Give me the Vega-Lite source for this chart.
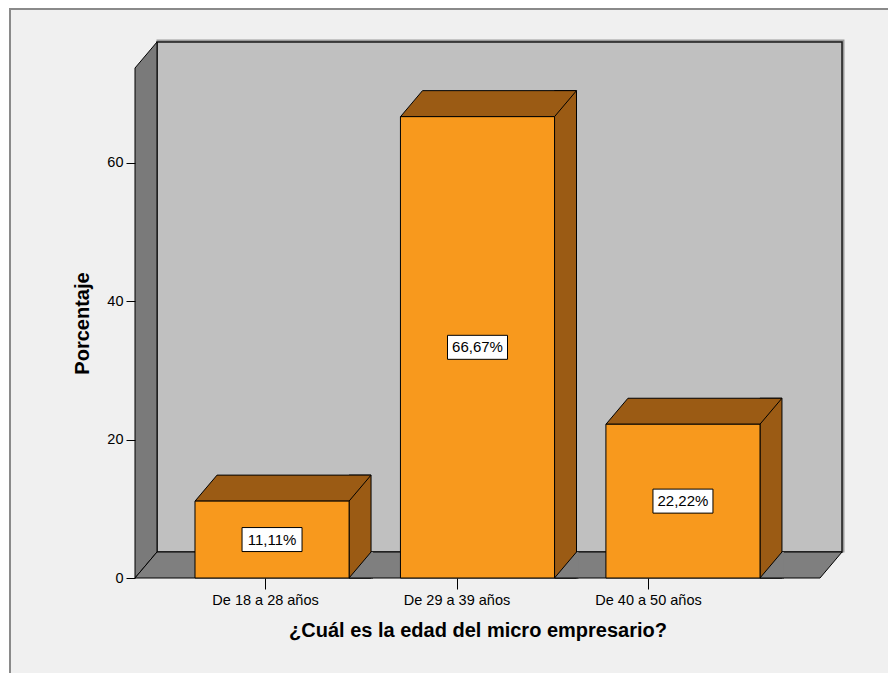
{
  "$schema": "https://vega.github.io/schema/vega-lite/v6.json",
  "width": 685,
  "height": 510,
  "autosize": "none",
  "padding": {"left": 135, "top": 68, "right": 68, "bottom": 95},
  "background": "#ffffff",
  "config": {
    "font": "Liberation Sans",
    "view": {"stroke": null},
    "axis": {"grid": false, "domain": false, "tickColor": "#000000", "labelColor": "#000000", "titleColor": "#000000", "labelFont": "Liberation Sans", "titleFont": "Liberation Sans"}
  },
  "data": {
    "values": [
      {"edad": "De 18 a 28 años", "pct": 11.11},
      {"edad": "De 29 a 39 años", "pct": 66.67},
      {"edad": "De 40 a 50 años", "pct": 22.22}
    ]
  },
  "resolve": {"scale": {"x": "independent"}, "axis": {"x": "independent"}},
  "layer": [
    {
      "data": {"values": [{}]},
      "layer": [
        {
          "mark": {"type": "rect", "fill": "#f0f0f0", "stroke": "#8a8a8a", "strokeWidth": 2, "xOffset": -125, "x2Offset": 80, "yOffset": -59, "y2Offset": 110},
          "encoding": {
            "x": {"datum": 0, "type": "quantitative", "scale": {"domain": [0, 1], "nice": false, "zero": false}, "axis": null},
            "x2": {"datum": 1},
            "y": {"datum": 73.7, "type": "quantitative", "scale": {"domain": [0, 73.7], "nice": false}},
            "y2": {"datum": 0}
          }
        },
        {
          "mark": {"type": "rect", "fill": "#c0c0c0", "stroke": "#9a9a9a", "strokeWidth": 3, "xOffset": 23, "x2Offset": 23, "yOffset": -27, "y2Offset": -27},
          "encoding": {
            "x": {"datum": 0, "type": "quantitative", "scale": {"domain": [0, 1], "nice": false, "zero": false}, "axis": null},
            "x2": {"datum": 1},
            "y": {"datum": 73.7, "type": "quantitative", "scale": {"domain": [0, 73.7], "nice": false}},
            "y2": {"datum": 0}
          }
        },
        {
          "mark": {"type": "rect", "fill": "#c0c0c0", "stroke": "#1a1a1a", "strokeWidth": 1.5, "xOffset": 22, "x2Offset": 22, "yOffset": -26, "y2Offset": -26},
          "encoding": {
            "x": {"datum": 0, "type": "quantitative", "scale": {"domain": [0, 1], "nice": false, "zero": false}, "axis": null},
            "x2": {"datum": 1},
            "y": {"datum": 73.7, "type": "quantitative", "scale": {"domain": [0, 73.7], "nice": false}},
            "y2": {"datum": 0}
          }
        },
        {
          "mark": {"type": "point", "shape": "M0,0 L0,-510 L22,-536 L22,-26 Z", "size": 4, "filled": true, "opacity": 1, "fill": "#7a7a7a", "stroke": "#000000", "strokeWidth": 1},
          "encoding": {
            "x": {"datum": 0, "type": "quantitative", "scale": {"domain": [0, 1], "nice": false, "zero": false}, "axis": null},
            "y": {"datum": 0, "type": "quantitative", "scale": {"domain": [0, 73.7], "nice": false}}
          }
        },
        {
          "mark": {"type": "point", "shape": "M0,0 L685,0 L707,-26 L22,-26 Z", "size": 4, "filled": true, "opacity": 1, "fill": "#7f7f7f", "stroke": "#000000", "strokeWidth": 1},
          "encoding": {
            "x": {"datum": 0, "type": "quantitative", "scale": {"domain": [0, 1], "nice": false, "zero": false}, "axis": null},
            "y": {"datum": 0, "type": "quantitative", "scale": {"domain": [0, 73.7], "nice": false}}
          }
        }
      ]
    },
    {
      "encoding": {
        "x": {"field": "edad", "type": "nominal", "sort": null, "scale": {"type": "band", "paddingInner": 0.25, "paddingOuter": 0.292}, "axis": null}
      },
      "layer": [
        {
          "mark": {"type": "bar", "width": 22, "xOffset": 88, "yOffset": -26, "fill": "#9b5b14", "stroke": "#000000", "strokeWidth": 1},
          "encoding": {
            "y": {"field": "pct", "type": "quantitative", "stack": null, "scale": {"domain": [0, 73.7], "nice": false}}
          }
        },
        {
          "mark": {"type": "point", "shape": "M77,0 L99,-26 L101,-26 L101,0 Z", "size": 4, "filled": true, "opacity": 1, "fill": "#7f7f7f", "strokeWidth": 0},
          "encoding": {
            "y": {"datum": 0, "type": "quantitative", "scale": {"domain": [0, 73.7], "nice": false}}
          }
        },
        {
          "mark": {"type": "point", "shape": "M101,0 L77,0 L99,-26", "size": 4, "filled": false, "opacity": 1, "stroke": "#000000", "strokeWidth": 1},
          "encoding": {
            "y": {"datum": 0, "type": "quantitative", "scale": {"domain": [0, 73.7], "nice": false}}
          }
        },
        {
          "mark": {"type": "point", "shape": "M-77,0 L77,0 L99,-26 L-55,-26 Z", "size": 4, "filled": true, "opacity": 1, "fill": "#9b5b14", "stroke": "#000000", "strokeWidth": 1},
          "encoding": {
            "y": {"field": "pct", "type": "quantitative", "stack": null, "scale": {"domain": [0, 73.7], "nice": false}}
          }
        },
        {
          "mark": {"type": "bar", "fill": "#f8991d", "stroke": "#000000", "strokeWidth": 1},
          "encoding": {
            "y": {"field": "pct", "type": "quantitative", "stack": null, "scale": {"domain": [0, 73.7], "nice": false}}
          }
        },
        {
          "mark": {"type": "point", "shape": "M-30,-12 L30,-12 L30,12 L-30,12 Z", "size": 4, "filled": true, "opacity": 1, "fill": "#ffffff", "stroke": "#000000", "strokeWidth": 1},
          "encoding": {
            "y": {"field": "pct", "type": "quantitative", "stack": "zero", "bandPosition": 0.5, "scale": {"domain": [0, 73.7], "nice": false}}
          }
        },
        {
          "transform": [{"calculate": "replace(format(datum.pct, '.2f'), '.', ',') + '%'", "as": "etiqueta"}],
          "mark": {"type": "text", "fontSize": 15, "color": "#000000", "baseline": "middle", "align": "center"},
          "encoding": {
            "y": {"field": "pct", "type": "quantitative", "stack": "zero", "bandPosition": 0.5, "scale": {"domain": [0, 73.7], "nice": false}},
            "text": {"field": "etiqueta"}
          }
        }
      ]
    },
    {
      "mark": {"type": "point", "opacity": 0},
      "encoding": {
        "x": {
          "field": "edad", "type": "nominal", "sort": null,
          "scale": {"type": "point", "padding": 0.7886, "align": 0.4305},
          "axis": {"zindex": 1, "title": "¿Cuál es la edad del micro empresario?", "labelAngle": 0, "labelFontSize": 14.5, "labelPadding": 4, "tickSize": 11, "titleFontSize": 20, "titleFontWeight": "bold", "titlePadding": 14}
        },
        "y": {
          "field": "pct", "type": "quantitative", "stack": null,
          "scale": {"domain": [0, 73.7], "nice": false},
          "axis": {"zindex": 1, "values": [0, 20, 40, 60], "title": "Porcentaje", "titleFontSize": 20, "titleFontWeight": "bold", "titlePadding": 14, "labelFontSize": 14.5, "labelPadding": 3, "tickSize": 9}
        }
      }
    }
  ]
}
